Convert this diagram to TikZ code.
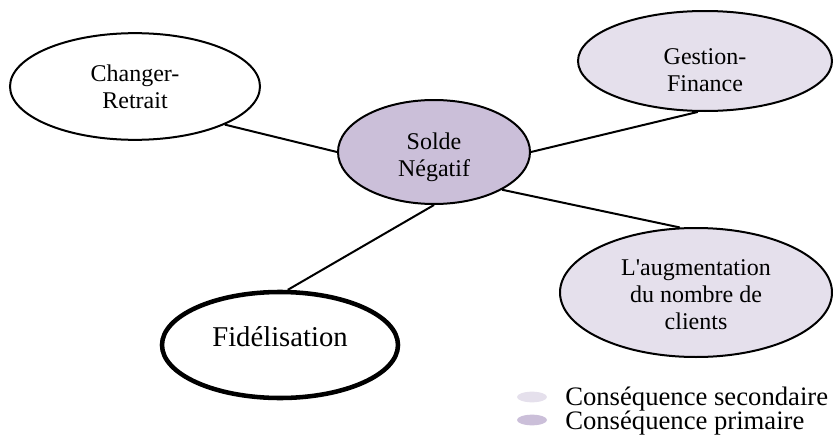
\documentclass[tikz,border=0pt]{standalone}
\usepackage{fontspec}
\setmainfont{Liberation Serif}
\usepackage{tikz}
\usetikzlibrary{shapes,positioning}
\usepackage{xcolor}
\definecolor{mprim}{HTML}{CBBFD9}
\definecolor{msec}{HTML}{E5E0EC}
\tikzstyle{ell}=[ellipse, draw=black, line width=1.5pt, inner sep=0pt]
\tikzstyle{txt}=[align=center, inner sep=0pt, font=\fontsize{18}{20.25}\selectfont]
\tikzstyle{l1}=[line width=1.5pt]
\tikzstyle{leg}=[ellipse, fill, minimum width=22.5pt, minimum height=8pt, inner sep=0pt]

\begin{document}
\begin{tikzpicture}[x=0.75pt, y=-0.75pt]
    \useasboundingbox (0,0) rectangle (833,446);

    \node[ell, fill=white, minimum width=187.5pt, minimum height=80pt] at (135,86.5) (changer) {};
    \node[ell, fill=mprim, minimum width=144pt, minimum height=78pt] at (434,152) (solde) {};
    \node[ell, fill=msec, minimum width=190.5pt, minimum height=75pt] at (705,61) (gestion) {};
    \node[ell, fill=msec, minimum width=204pt, minimum height=96.75pt] at (696,292.5) (augm) {};
    \node[ell, fill=white, line width=3.4pt, minimum width=177pt, minimum height=79.5pt] at (280,345) (fidel) {};

    \node[txt] at (changer) (tchanger) {Changer-\\Retrait};
    \node[txt, yshift=-3.75pt] at (solde) (tsolde) {Solde\\Négatif};
    \node[txt, yshift=-6.75pt] at (gestion) (tgestion) {Gestion-\\Finance};
    \node[txt, yshift=-1.5pt] at (augm) (taugm) {L\textquotesingle augmentation\\du nombre de\\clients};
    \node[txt, yshift=6pt, font=\fontsize{21.5}{24}\selectfont] at (fidel) (tfidel) {Fidélisation};

    \draw[l1] (changer.-23) -- (solde.180);
    \draw[l1] (solde.0) -- (gestion.-98);
    \draw[l1] (solde.-29) -- (augm.104);
    \draw[l1] (solde.-90) -- (fidel.82);

    % legende
    \node[leg, color=msec] at (532,397) (lsec) {};
    \node[leg, color=mprim] at (532,420) (lprim) {};
    \node[anchor=base west, inner sep=0pt, font=\fontsize{20}{22}\selectfont] at (565,405) (tsec) {Conséquence secondaire};
    \node[anchor=base west, inner sep=0pt, font=\fontsize{20}{22}\selectfont] at (565,429) (tprim) {Conséquence primaire};

\end{tikzpicture}
\end{document}
